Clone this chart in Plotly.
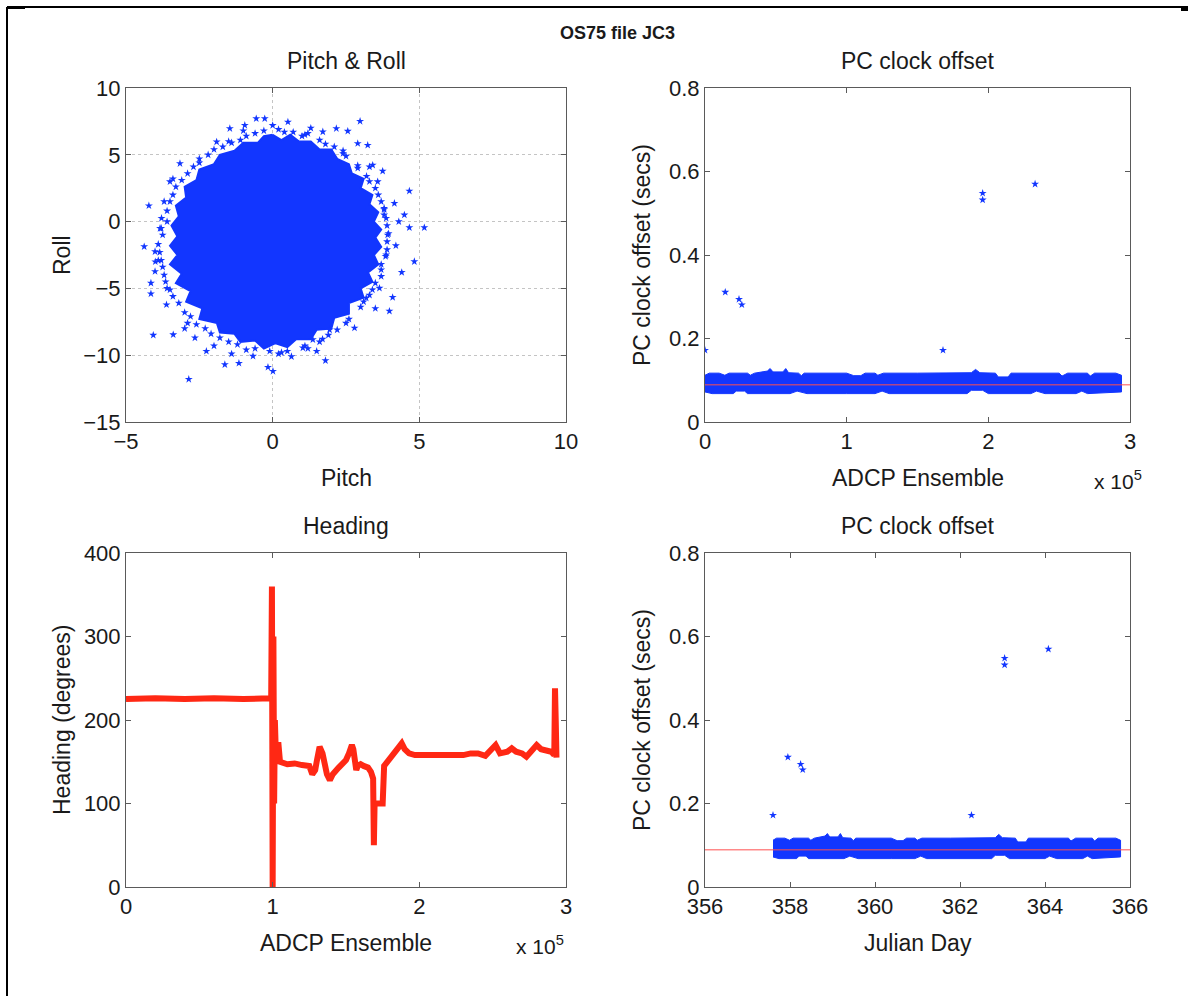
import plotly.graph_objects as go

# ---------------- data ----------------
# Pitch & Roll: dense core outline (pitch, roll) and scattered fringe points
core_pitch = [0.0, 0.3, 0.6, 0.9, 1.3, 1.6, 2.0, 2.2, 2.6, 2.7, 3.1, 3.0, 3.4, 3.3, 3.6, 3.45,
              3.7, 3.5, 3.7, 3.45, 3.6, 3.25, 3.4, 3.0, 3.1, 2.6, 2.6, 2.1, 2.0, 1.5, 1.3, 0.8,
              0.5, 0.1, -0.3, -0.6, -1.1, -1.3, -1.8, -1.9, -2.5, -2.4, -2.95, -2.8, -3.3,
              -3.1, -3.5, -3.25, -3.5, -3.25, -3.45, -3.2, -3.3, -2.95, -3.0, -2.6, -2.5,
              -2.0, -1.8, -1.3, -1.0, -0.5, -0.3]
core_roll = [6.5, 6.1, 6.5, 6.0, 6.0, 5.4, 5.4, 4.7, 4.3, 3.6, 3.2, 2.5, 2.0, 1.3, 0.7, 0.0,
             -0.6, -1.2, -1.9, -2.5, -3.2, -3.8, -4.5, -5.0, -5.7, -6.1, -6.9, -7.2, -8.0,
             -8.1, -8.8, -8.8, -9.4, -9.1, -9.5, -8.9, -9.0, -8.4, -8.3, -7.6, -7.3, -6.5,
             -6.0, -5.2, -4.6, -3.9, -3.2, -2.5, -1.8, -1.1, -0.3, 0.4, 1.2, 1.8, 2.6, 3.1,
             3.9, 4.3, 5.0, 5.3, 5.9, 5.9, 6.4]
fringe_pitch = [-4.22, -4.38, -4.15, -4.15, -4.07, -2.86, 0.01, -0.16, -1.15, -1.63, 0.64, 1.8,
                1.94, 2.79, 3.98, 4.09, 4.4, 4.83, 5.17, 4.66, 4.49, 4.66, 4.15, 3.75, 3.24, 2.9,
                2.98, 2.56, 2.17, 1.71, 0.52, -0.27, -0.56, -0.95, -1.46, -1.91, -3.16, -3.5,
                -3.79, -3.84, -4.01, -4.01, -3.62, -3.39, -2.65, -2.26, -0.67, 1.03, 1.37, 3.19,
                3.64, 3.87, 3.92, 3.87, 3.58, 3.41, -3.6, -3.7, -2.0, 1.2, 2.4, 3.7, 3.8, -3.4,
                -1.0, 0.3, 1.6, -2.9, 3.5, -3.9,
                -0.3, 0.2, 0.7, 1.1, -0.9, -1.5, 1.6, 2.1, 2.5, 2.9, 3.2, 3.5, 3.7, 3.8, 3.9,
                3.9, 3.85, 3.7, 3.5, 3.3, 3.0, 2.6, 2.2, 1.7, 1.1, 0.5, -0.1, -0.6, -1.2, -1.8,
                -2.3, -2.8, -3.2, -3.5, -3.7, -3.8, -3.9, -3.8, -3.6, -3.4, -3.1, -2.7, -2.2,
                -1.7, -1.1, 0.0, 1.3, -2.5, 3.3, 4.2, 4.3, -4.0, -3.0, 1.5, -1.4,
                0.4, 1.0, 1.8, 2.4, 2.9, 3.3, 3.6, 3.8, 3.95, 3.9, 3.7, 3.4, 3.1, 2.5, 1.9,
                1.2, 0.2, -0.9, -1.5, -2.1, -2.6, -3.0, -3.4, -3.65, -3.75, -3.85, -3.75,
                -3.6, -3.5, -3.3, -2.9, -2.5, -2.0, -1.4, -0.6]
fringe_roll = [1.19, -1.87, -4.6, -5.4, -8.5, -11.8, -11.2, -10.9, -10.6, -10.7, -10.1, -10.4,
               -8.1, -7.96, -6.7, -5.67, -3.8, -2.99, -0.45, -0.45, 0.5, 2.29, 1.37, 3.78, 5.72,
               5.85, 7.51, 6.77, 6.97, 6.72, 7.46, 7.71, 7.71, 7.21, 6.97, 5.97, 4.35, 2.99, 0.25,
               -0.5, -2.24, -3.73, -6.22, -8.46, -8.7, -9.7, -10.07, -9.45, -8.83, -5.72, -4.98,
               -2.49, -1.0, 0.25, 2.99, 4.23, -5.0, 1.5, -9.3, 6.6, 5.3, -3.2, 0.9, 3.2, 6.8,
               -9.8, -9.0, -7.6, -6.5, -2.9,
               6.8, 6.9, 6.7, 6.5, 6.4, 6.0, 6.1, 5.6, 4.9, 4.2, 3.4, 2.5, 1.5, 0.5, -0.3,
               -1.5, -2.6, -3.6, -4.6, -5.5, -6.4, -7.3, -8.1, -8.8, -9.3, -9.7, -9.7, -9.5,
               -9.2, -8.7, -8.0, -7.1, -6.1, -5.1, -4.0, -2.9, -1.7, -0.5, 0.8, 2.0, 3.1, 4.1,
               5.0, 5.6, 6.1, 7.2, 7.0, 4.7, 4.1, -1.8, 0.0, -3.0, -8.0, -9.7, -9.9,
               6.7, 6.4, 5.8, 5.1, 4.0, 3.0, 2.0, 1.0, -0.9, -2.1, -4.1, -5.1, -6.0, -7.6,
               -8.5, -9.5, -9.9, -9.6, -9.0, -8.4, -7.7, -6.8, -5.6, -4.5, -3.4, -2.3, -1.0,
               0.0, 1.5, 2.6, 3.6, 4.4, 5.4, 5.9, 6.6]

# PC clock offset: dense band (upper / lower edges) vs ensemble, outliers, mean line
band_up_ens = [0, 3000, 10000, 14000, 17000, 30000, 32000, 35000, 44000, 46000, 48000, 55000,
               57000, 59000, 66000, 68000, 70000, 100000, 105000, 110000, 113000, 120000, 122000,
               126000, 150000, 188000, 191000, 194000, 205000, 207000, 214000, 216000, 250000,
               252000, 256000, 270000, 272000, 275000, 290000, 294000]
band_up_val = [0.112, 0.117, 0.117, 0.112, 0.117, 0.117, 0.112, 0.117, 0.122, 0.128, 0.120,
               0.120, 0.128, 0.118, 0.117, 0.111, 0.117, 0.117, 0.111, 0.111, 0.117, 0.117,
               0.112, 0.117, 0.117, 0.118, 0.126, 0.118, 0.117, 0.108, 0.108, 0.117, 0.117,
               0.110, 0.117, 0.117, 0.110, 0.117, 0.117, 0.112]
band_lo_ens = [0, 5000, 20000, 22000, 28000, 30000, 60000, 65000, 72000, 100000, 120000, 125000,
               130000, 185000, 188000, 196000, 200000, 230000, 234000, 240000, 262000, 266000,
               270000, 294000]
band_lo_val = [0.072, 0.068, 0.068, 0.074, 0.074, 0.068, 0.068, 0.074, 0.068, 0.068, 0.068,
               0.074, 0.068, 0.068, 0.076, 0.076, 0.068, 0.068, 0.074, 0.068, 0.068, 0.074,
               0.068, 0.072]
out_ens = [0, 14300, 24000, 26000, 168000, 196000, 196000, 233000]
out_val = [0.172, 0.311, 0.294, 0.281, 0.172, 0.548, 0.532, 0.570]
out_jday = [357.6, 357.95, 358.25, 358.3, 362.27, 363.05, 363.05, 364.08]
mean_offset = 0.089
jday_start = 357.6          # julian day of first ensemble
ens_per_day = 293000 / 8.15  # ensembles per day

# Heading vs ensemble
head_ens = [0, 20000, 40000, 60000, 80000, 98000, 99000, 99500, 100000, 100500, 101000, 101500,
            102000, 104000, 105000, 110000, 115000, 120000, 125000, 127000, 129000, 130000,
            132000, 134000, 137000, 139000, 141000, 145000, 148000, 150000, 152000, 154000,
            155000, 156000, 157000, 158000, 160000, 162000, 165000, 167000, 168500, 169000,
            169500, 172000, 175000, 176000, 178000, 180000, 183000, 186000, 188000, 190000,
            193000, 197000, 205000, 215000, 225000, 230000, 235000, 240000, 245000, 250000,
            252000, 255000, 260000, 263000, 266000, 270000, 273000, 276000, 280000, 283000,
            287000, 290000, 292000, 292500, 293000, 293500]
head_deg = [225, 226, 225, 226, 225, 226, 228, 360, 0, 300, 100, 200, 170, 170, 150, 147, 148,
            146, 145, 135, 140, 150, 168, 160, 135, 128, 135, 143, 148, 152, 160, 170, 165, 150,
            140, 145, 147, 145, 143, 138, 130, 50, 100, 100, 100, 145, 150, 155, 160, 170, 172,
            165, 160, 158, 158, 158, 157, 158, 160, 160, 157, 165, 170, 160, 162, 166, 162, 160,
            156, 162, 170, 165, 163, 162, 158, 238, 200, 155]

# ---------------- styling / layout ----------------
W, H = 1188, 996
BLUE = "#1236ff"
RED = "#ff2814"
FONT = "Liberation Sans, Arial, sans-serif"
AX = "#5a5a5a"
TXT = "#1a1a1a"


def px(x):
    return x / W


def py(y):
    return 1 - y / H


XL = [px(126), px(566)]
XR = [px(705), px(1130)]
YT = [py(422), py(88)]
YB = [py(887), py(553)]

fig = go.Figure()

# Pitch & Roll
fig.add_trace(go.Scatter(x=core_pitch + core_pitch[:1], y=core_roll + core_roll[:1],
                         fill="toself", fillcolor=BLUE, mode="lines",
                         line=dict(color=BLUE, width=2), xaxis="x", yaxis="y",
                         hoverinfo="skip"))
fig.add_trace(go.Scatter(x=fringe_pitch, y=fringe_roll, mode="markers",
                         marker=dict(symbol="star", size=6, color=BLUE),
                         xaxis="x", yaxis="y"))

# PC clock offset vs ensemble
band_x = band_up_ens + band_lo_ens[::-1]
band_y = band_up_val + band_lo_val[::-1]
fig.add_trace(go.Scatter(x=band_x, y=band_y, fill="toself", fillcolor=BLUE, mode="lines",
                         line=dict(color=BLUE, width=1), xaxis="x2", yaxis="y2"))
fig.add_trace(go.Scatter(x=out_ens, y=out_val, mode="markers",
                         marker=dict(symbol="star", size=6, color=BLUE),
                         xaxis="x2", yaxis="y2"))
fig.add_trace(go.Scatter(x=[0, 300000], y=[mean_offset, mean_offset], mode="lines",
                         line=dict(color="#ff5050", width=1), xaxis="x2", yaxis="y2"))

# Heading
fig.add_trace(go.Scatter(x=head_ens, y=head_deg, mode="lines",
                         line=dict(color=RED, width=6), xaxis="x3", yaxis="y3"))

# PC clock offset vs Julian day
band_jd = [jday_start + e / ens_per_day for e in band_x]
fig.add_trace(go.Scatter(x=band_jd, y=band_y, fill="toself", fillcolor=BLUE, mode="lines",
                         line=dict(color=BLUE, width=1), xaxis="x4", yaxis="y4"))
fig.add_trace(go.Scatter(x=out_jday, y=out_val, mode="markers",
                         marker=dict(symbol="star", size=6, color=BLUE),
                         xaxis="x4", yaxis="y4"))
fig.add_trace(go.Scatter(x=[356, 366], y=[mean_offset, mean_offset], mode="lines",
                         line=dict(color="#ff5050", width=1), xaxis="x4", yaxis="y4"))


def axis(domain, rng, tickvals, ticktext, anchor, grid=False):
    return dict(domain=domain, range=rng, tickvals=tickvals, ticktext=ticktext,
                anchor=anchor, showline=True, linecolor=AX, linewidth=1, mirror="ticks",
                ticks="inside", ticklen=5, tickcolor=AX, zeroline=False, automargin=False,
                showgrid=grid, gridcolor="#c4c4c4", griddash="dot", gridwidth=1,
                tickfont=dict(family=FONT, size=22, color=TXT), fixedrange=True)


ens_ticks = [0, 100000, 200000, 300000]
ens_text = ["0", "1", "2", "3"]
off_ticks = [0, 0.2, 0.4, 0.6, 0.8]
off_text = ["0", "0.2", "0.4", "0.6", "0.8"]

fig.update_layout(
    template="none",
    width=W, height=H, autosize=False, margin=dict(l=0, r=0, t=0, b=0, pad=0),
    paper_bgcolor="white", plot_bgcolor="white", showlegend=False,
    font=dict(family=FONT, color=TXT),
    xaxis=axis(XL, [-5, 10], [-5, 0, 5, 10], ["\u22125", "0", "5", "10"], "y", grid=True),
    yaxis=axis(YT, [-15, 10], [-15, -10, -5, 0, 5, 10],
               ["\u221215", "\u221210", "\u22125", "0", "5", "10"], "x", grid=True),
    xaxis2=axis(XR, [0, 300000], ens_ticks, ens_text, "y2"),
    yaxis2=axis(YT, [0, 0.8], off_ticks, off_text, "x2"),
    xaxis3=axis(XL, [0, 300000], ens_ticks, ens_text, "y3"),
    yaxis3=axis(YB, [0, 400], [0, 100, 200, 300, 400], ["0", "100", "200", "300", "400"], "x3"),
    xaxis4=axis(XR, [356, 366], [356, 358, 360, 362, 364, 366],
                ["356", "358", "360", "362", "364", "366"], "y4"),
    yaxis4=axis(YB, [0, 0.8], off_ticks, off_text, "x4"),
)


def label(text, x, y, size=23, angle=0, bold=False):
    fig.add_annotation(text=f"<b>{text}</b>" if bold else text, x=px(x), y=py(y),
                       xref="paper", yref="paper", showarrow=False, textangle=angle,
                       font=dict(family=FONT, size=size, color=TXT),
                       xanchor="center", yanchor="middle")


label("OS75 file JC3", 617, 33, size=18, bold=True)
label("Pitch &amp; Roll", 346, 61, size=23)
label("PC clock offset", 918, 61, size=23)
label("Heading", 346, 526, size=23)
label("PC clock offset", 918, 526, size=23)
label("Pitch", 346, 478)
label("ADCP Ensemble", 918, 478)
label("ADCP Ensemble", 346, 943)
label("Julian Day", 918, 943)
label("Roll", 62, 255, angle=-90)
label("PC clock offset (secs)", 642, 255, angle=-90)
label("Heading (degrees)", 62, 720, angle=-90)
label("PC clock offset (secs)", 642, 720, angle=-90)
label("x 10<sup>5</sup>", 1118, 480, size=21)
label("x 10<sup>5</sup>", 540, 945, size=21)

# figure frame (partially visible)
fig.add_shape(type="line", xref="paper", yref="paper", x0=px(7), x1=px(1188),
              y0=py(7), y1=py(7), line=dict(color="black", width=2))
fig.add_shape(type="line", xref="paper", yref="paper", x0=px(7), x1=px(7),
              y0=py(7), y1=0, line=dict(color="black", width=2))
fig.add_shape(type="line", xref="paper", yref="paper", x0=px(7), x1=px(25),
              y0=py(7.5), y1=py(7.5), line=dict(color="black", width=3))
fig.add_shape(type="line", xref="paper", yref="paper", x0=px(1181), x1=px(1188),
              y0=py(9), y1=py(9), line=dict(color="black", width=4))

fig.write_html("out.html")
